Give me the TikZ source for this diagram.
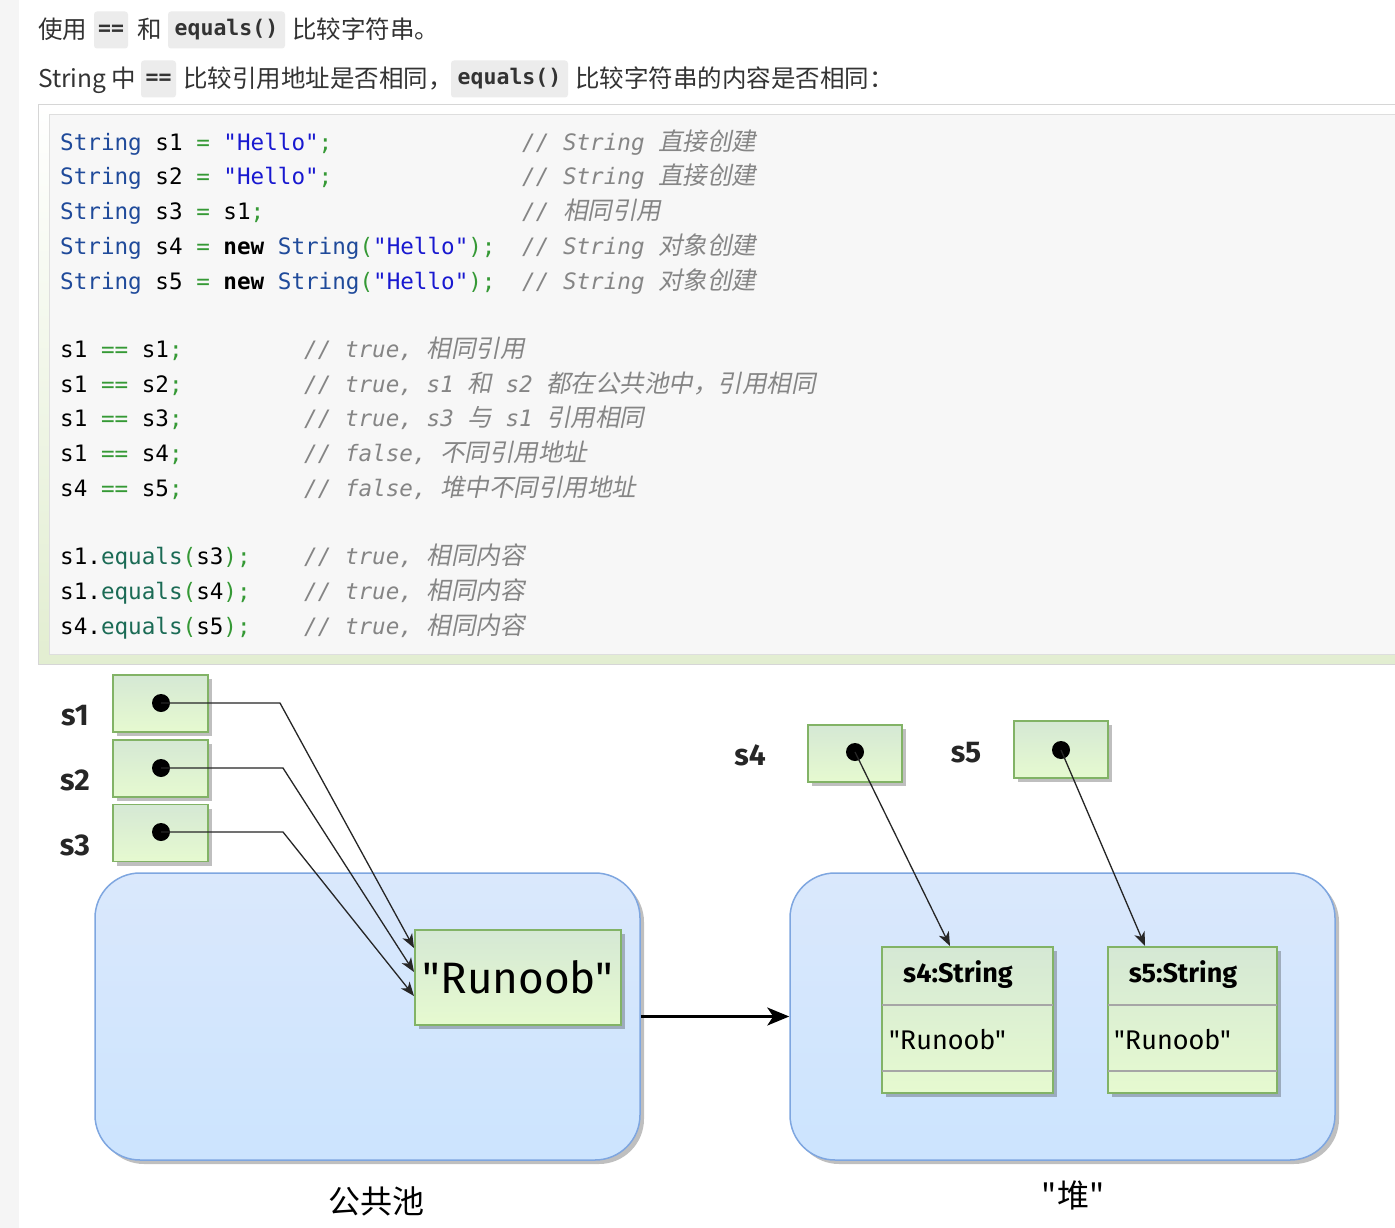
\documentclass[tikz,border=0pt]{standalone}
\usepackage{fontspec}
\setmainfont{Noto Sans CJK SC}
\newfontfamily\cjk{Noto Sans CJK SC}
\newfontfamily\cjkit{Noto Sans CJK SC}[FakeSlant=0.2]
\newfontfamily\mono{DejaVu Sans Mono}
\newfontfamily\dia{Fira Sans}
\usetikzlibrary{arrows.meta,shadows}
\definecolor{txt}{HTML}{333333}
\definecolor{typc}{HTML}{1F4A9A}
\definecolor{strc}{HTML}{1818D0}
\definecolor{punc}{HTML}{359935}
\definecolor{func}{HTML}{1B6B55}
\definecolor{comc}{HTML}{858585}
\definecolor{chipc}{HTML}{ECECEC}
\definecolor{grnborder}{HTML}{82B366}
\definecolor{grntop}{HTML}{D5E8D4}
\definecolor{grnbot}{HTML}{E6FAD0}
\definecolor{bluetop}{HTML}{DAE8FC}
\definecolor{bluebot}{HTML}{CCE4FE}
\definecolor{blueborder}{HTML}{7EA6E0}
\newcommand\Ty[1]{\textcolor{typc}{#1}}
\newcommand\St[1]{\textcolor{strc}{#1}}
\newcommand\Pn[1]{\textcolor{punc}{#1}}
\newcommand\Fn[1]{\textcolor{func}{#1}}
\newcommand\zh[1]{{\cjkit\fontsize{24.5}{28}\selectfont #1}}
\tikzset{
  txtnode/.style={anchor=base west,inner sep=0pt,text=txt,font=\cjk\fontsize{24.5}{28}\selectfont},
  chip/.style={fill=chipc,rounded corners=3pt,inner sep=0pt,minimum height=37pt,text=txt,font=\mono\bfseries\fontsize{21.5}{24}\selectfont},
  code/.style={anchor=base west,inner sep=0pt,font=\mono\fontsize{22.6}{27}\selectfont},
  cmt/.style={anchor=base west,inner sep=0pt,text=comc,font=\mono\itshape\fontsize{22.6}{27}\selectfont},
  shadowed/.style={drop shadow={shadow xshift=4pt,shadow yshift=-4pt,fill=black,opacity=0.25}},
  varbox/.style={shadowed,draw=grnborder,line width=1.3pt,top color=grntop,bottom color=grnbot,minimum width=95pt,minimum height=57pt,inner sep=0pt},
  objbox/.style={shadowed,draw=grnborder,line width=2pt,top color=grntop,bottom color=grnbot,inner sep=0pt},
  poolbox/.style={shadowed,draw=blueborder,line width=1.5pt,top color=bluetop,bottom color=bluebot,rounded corners=45pt,minimum width=545pt,minimum height=287pt,inner sep=0pt},
  dot/.style={circle,fill=black,inner sep=0pt,minimum size=18pt},
  vlabel/.style={font=\dia\bfseries\fontsize{30}{34}\selectfont,text=black!85,inner sep=0pt},
  ptr/.style={draw=black!85,line width=1.3pt,-{Stealth[length=14pt,width=11pt,inset=4pt]}},
  divider/.style={draw=black!35,line width=1.5pt}
}
\begin{document}
\begin{tikzpicture}[x=1pt,y=-1pt]
\useasboundingbox (0,0) rectangle (1395,1228);
\fill[white] (0,0) rectangle (1395,1228);
\fill[black!4] (0,0) rectangle (19,1228);
% top text
\node[txtnode] (t1) at (38,39) {使用};
\node[chip,minimum width=34pt] (k1) at (111,30) {==};
\node[txtnode] (t2) at (137,39) {和};
\node[chip,minimum width=117pt] (k2) at (226.5,30) {equals()};
\node[txtnode] (t3) at (292,39) {比较字符串。};
\node[txtnode] (t4) at (38,88) {String 中};
\node[chip,minimum width=35pt] (k3) at (158.5,79) {==};
\node[txtnode] (t5) at (183,88) {比较引用地址是否相同，};
\node[chip,minimum width=117pt] (k4) at (509.5,79) {equals()};
\node[txtnode] (t6) at (575,88) {比较字符串的内容是否相同：};
% code block
\draw[draw=black!16,top color=white,bottom color=green!25!olive!18!white] (38,104) rectangle (1400,664);
\draw[draw=black!13,fill=black!3] (49,114) rectangle (1400,654);
\node[code] (c1) at (60,150) {\Ty{String} s1 \Pn{=} \St{"Hello"}\Pn{;}};
\node[code] (c2) at (60,185) {\Ty{String} s2 \Pn{=} \St{"Hello"}\Pn{;}};
\node[code] (c3) at (60,219.5) {\Ty{String} s3 \Pn{=} s1\Pn{;}};
\node[code] (c4) at (60,254) {\Ty{String} s4 \Pn{=} \textbf{new} \Ty{String}\Pn{(}\St{"Hello"}\Pn{);}};
\node[code] (c5) at (60,289) {\Ty{String} s5 \Pn{=} \textbf{new} \Ty{String}\Pn{(}\St{"Hello"}\Pn{);}};
\node[cmt] (m1) at (522,150) {// String \zh{直接创建}};
\node[cmt] (m2) at (522,185) {// String \zh{直接创建}};
\node[cmt] (m3) at (522,219.5) {// \zh{相同引用}};
\node[cmt] (m4) at (522,254) {// String \zh{对象创建}};
\node[cmt] (m5) at (522,289) {// String \zh{对象创建}};
\node[code] (c6) at (60,357) {s1 \Pn{==} s1\Pn{;}};
\node[code] (c7) at (60,392) {s1 \Pn{==} s2\Pn{;}};
\node[code] (c8) at (60,426.5) {s1 \Pn{==} s3\Pn{;}};
\node[code] (c9) at (60,461) {s1 \Pn{==} s4\Pn{;}};
\node[code] (c10) at (60,496) {s4 \Pn{==} s5\Pn{;}};
\node[cmt] (m6) at (304,357) {// true, \zh{相同引用}};
\node[cmt] (m7) at (304,392) {// true, s1 \zh{和} s2 \zh{都在公共池中，引用相同}};
\node[cmt] (m8) at (304,426.5) {// true, s3 \zh{与} s1 \zh{引用相同}};
\node[cmt] (m9) at (304,461) {// false, \zh{不同引用地址}};
\node[cmt] (m10) at (304,496) {// false, \zh{堆中不同引用地址}};
\node[code] (c11) at (60,564) {s1.\Fn{equals}\Pn{(}s3\Pn{);}};
\node[code] (c12) at (60,599) {s1.\Fn{equals}\Pn{(}s4\Pn{);}};
\node[code] (c13) at (60,634) {s4.\Fn{equals}\Pn{(}s5\Pn{);}};
\node[cmt] (m11) at (304,564) {// true, \zh{相同内容}};
\node[cmt] (m12) at (304,599) {// true, \zh{相同内容}};
\node[cmt] (m13) at (304,634) {// true, \zh{相同内容}};
% diagram: pools
\node[poolbox] (pool) at (367.5,1016.5) {};
\node[poolbox] (heap) at (1062.5,1016.5) {};
\node[font=\cjk\fontsize{32}{36}\selectfont,inner sep=0pt] (poollbl) at (376,1201) {公共池};
\node[font=\cjk\fontsize{32}{36}\selectfont,inner sep=0pt] (heaplbl) at (1073,1195) {"堆"};
% variable boxes
\node[varbox] (b1) at (160.5,703.5) {};
\node[varbox] (b2) at (160.5,768.5) {};
\node[varbox] (b3) at (160.5,833) {};
\node[varbox,minimum width=94pt] (b4) at (855,753.5) {};
\node[varbox,minimum width=94pt] (b5) at (1061,749.5) {};
\node[vlabel] (l1) at (75,716) {s1};
\node[vlabel] (l2) at (75,780) {s2};
\node[vlabel] (l3) at (75,845) {s3};
\node[vlabel] (l4) at (750,755) {s4};
\node[vlabel] (l5) at (966,753) {s5};
% string objects
\node[objbox,minimum width=206pt,minimum height=95pt,font=\dia\fontsize{44}{48}\selectfont] (runoob) at (518,977.5) {"Runoob"};
\node[objbox,minimum width=171pt,minimum height=146pt] (s4obj) at (967.5,1020) {};
\node[objbox,minimum width=169pt,minimum height=146pt] (s5obj) at (1192.5,1020) {};
\draw[divider] ([yshift=-59pt,xshift=1pt]s4obj.north west) -- ([yshift=-59pt,xshift=-1pt]s4obj.north east);
\draw[divider] ([yshift=-125pt,xshift=1pt]s4obj.north west) -- ([yshift=-125pt,xshift=-1pt]s4obj.north east);
\draw[divider] ([yshift=-59pt,xshift=1pt]s5obj.north west) -- ([yshift=-59pt,xshift=-1pt]s5obj.north east);
\draw[divider] ([yshift=-125pt,xshift=1pt]s5obj.north west) -- ([yshift=-125pt,xshift=-1pt]s5obj.north east);
\node[font=\dia\bfseries\fontsize{27}{30}\selectfont,inner sep=0pt] (s4t) at (958,975) {s4:String};
\node[font=\dia\bfseries\fontsize{27}{30}\selectfont,inner sep=0pt] (s5t) at (1183,975) {s5:String};
\node[font=\dia\fontsize{27}{30}\selectfont,inner sep=0pt,anchor=west] (s4v) at (889,1040) {"Runoob"};
\node[font=\dia\fontsize{27}{30}\selectfont,inner sep=0pt,anchor=west] (s5v) at (1114,1040) {"Runoob"};
% pointers
\coordinate (r1) at ([yshift=29.5pt]runoob.west);
\coordinate (r2) at ([yshift=5.5pt]runoob.west);
\coordinate (r3) at ([yshift=-18.5pt]runoob.west);
\node[dot] (d1) at (161,703) {};
\node[dot] (d2) at (161,768) {};
\node[dot] (d3) at (161,832) {};
\node[dot] (d4) at (855,752) {};
\node[dot] (d5) at (1061,750) {};
\draw[ptr] (d1.center) -- ++(119,0) -- (r1);
\draw[ptr] (d2.center) -- ++(122,0) -- (r2);
\draw[ptr] (d3.center) -- ++(122,0) -- (r3);
\draw[ptr] (d4.center) -- ([xshift=-17.5pt]s4obj.north);
\draw[ptr] (d5.center) -- ([xshift=-47.5pt]s5obj.north);
\draw[line width=2.5pt,-{Stealth[length=22pt,width=18pt,inset=6pt]}] (pool.east) -- (heap.west);
\end{tikzpicture}
\end{document}
